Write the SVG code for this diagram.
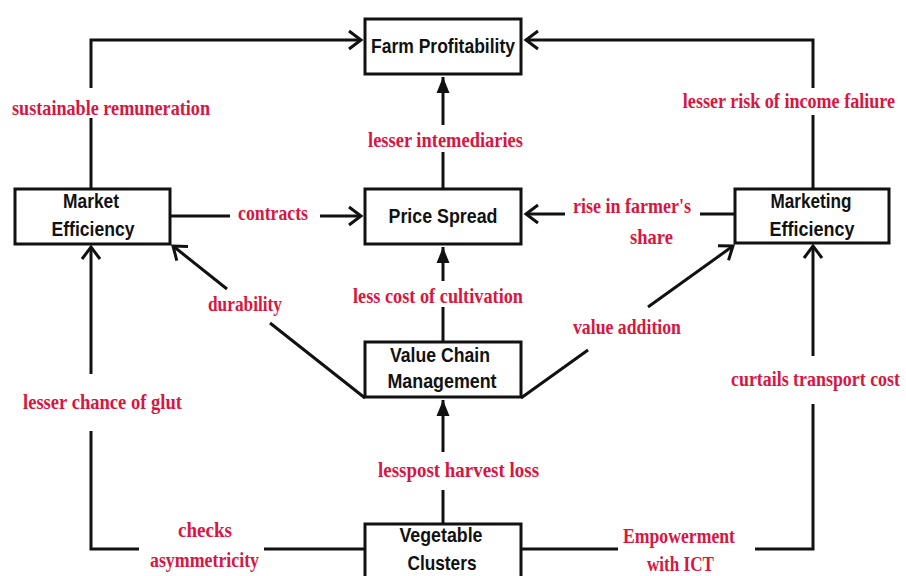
<svg xmlns="http://www.w3.org/2000/svg" width="906" height="576" viewBox="0 0 906 576">
<style>
.box{fill:#fff;stroke:#111;stroke-width:3}
.bt{font-family:"Liberation Sans",Arial,sans-serif;font-weight:bold;font-size:21px;fill:#111;text-anchor:middle}
.lb{font-family:"Liberation Serif","Times New Roman",serif;font-weight:bold;font-size:22px;fill:#d8163f}
.ln{fill:none;stroke:#111;stroke-width:3}
.ch{marker-end:url(#chev)}
.tr{marker-end:url(#tri)}
</style>
<defs>
<marker id="chev" markerUnits="userSpaceOnUse" viewBox="-16 -12 20 24" refX="0" refY="0" markerWidth="20" markerHeight="24" orient="auto" overflow="visible">
<path d="M -12 -9 L 0 0 L -12 9" fill="none" stroke="#111" stroke-width="3"/>
</marker>
<marker id="tri" markerUnits="userSpaceOnUse" viewBox="-18 -8 20 16" refX="0" refY="0" markerWidth="20" markerHeight="16" orient="auto" overflow="visible">
<path d="M -16 -6.5 L 0 0 L -16 6.5 Z" fill="#111"/>
</marker>
</defs>
<rect width="906" height="576" fill="#fff"/>
<g id="connectors">
<path class="ln" d="M 91 188 V 118"/>
<path class="ln ch" d="M 91 88 V 40 H 361"/>
<path class="ln" d="M 813 188 V 115"/>
<path class="ln ch" d="M 813 88 V 40 H 526"/>
<path class="ln" d="M 443 188 V 152"/>
<path class="ln tr" d="M 443 125 V 77"/>
<path class="ln" d="M 170 216 H 230"/>
<path class="ln ch" d="M 320 216 H 361"/>
<path class="ln" d="M 734 214 H 700"/>
<path class="ln ch" d="M 565 214 H 526"/>
<path class="ln" d="M 443 342 V 307"/>
<path class="ln tr" d="M 443 281 V 247"/>
<path class="ln" d="M 365 398 L 270 323"/>
<path class="ln ch" d="M 227 289 L 173 246"/>
<path class="ln" d="M 521 398 L 588 350"/>
<path class="ln ch" d="M 648 307 L 733 246"/>
<path class="ln" d="M 443 523 V 490"/>
<path class="ln tr" d="M 443 452 V 400"/>
<path class="ln" d="M 365 549 H 264"/>
<path class="ln" d="M 139 549 H 91 V 431"/>
<path class="ln ch" d="M 91 374 V 247"/>
<path class="ln" d="M 521 549 H 618"/>
<path class="ln" d="M 755 549 H 813 V 404"/>
<path class="ln ch" d="M 813 356 V 246"/>
</g>
<g id="farm-profitability">
<rect class="box" x="365" y="19" width="156" height="55"/>
<text class="bt" x="443" y="53" textLength="144" lengthAdjust="spacingAndGlyphs">Farm Profitability</text>
</g>
<g id="price-spread">
<rect class="box" x="365" y="189" width="156" height="55"/>
<text class="bt" x="443" y="223" textLength="109" lengthAdjust="spacingAndGlyphs">Price Spread</text>
</g>
<g id="market-efficiency">
<rect class="box" x="15" y="189" width="155" height="55"/>
<text class="bt" x="91" y="208" textLength="56" lengthAdjust="spacingAndGlyphs">Market</text>
<text class="bt" x="93" y="236" textLength="83" lengthAdjust="spacingAndGlyphs">Efficiency</text>
</g>
<g id="marketing-efficiency">
<rect class="box" x="735" y="189" width="154" height="54"/>
<text class="bt" x="811" y="208" textLength="81" lengthAdjust="spacingAndGlyphs">Marketing</text>
<text class="bt" x="812" y="236" textLength="85" lengthAdjust="spacingAndGlyphs">Efficiency</text>
</g>
<g id="value-chain-management">
<rect class="box" x="365" y="342" width="156" height="55"/>
<text class="bt" x="440" y="362" textLength="100" lengthAdjust="spacingAndGlyphs">Value Chain</text>
<text class="bt" x="442" y="388" textLength="109" lengthAdjust="spacingAndGlyphs">Management</text>
</g>
<g id="vegetable-clusters">
<rect class="box" x="365" y="524" width="156" height="60"/>
<text class="bt" x="441" y="542" textLength="83" lengthAdjust="spacingAndGlyphs">Vegetable</text>
<text class="bt" x="442" y="570" textLength="69" lengthAdjust="spacingAndGlyphs">Clusters</text>
</g>
<g id="labels">
<text class="lb" x="12" y="115" textLength="198" lengthAdjust="spacingAndGlyphs">sustainable remuneration</text>
<text class="lb" x="368" y="147" textLength="155" lengthAdjust="spacingAndGlyphs">lesser intemediaries</text>
<text class="lb" transform="translate(895,108) scale(0.822,1)" x="0" y="0" text-anchor="end">lesser risk of income faliure</text>
<text class="lb" x="238" y="220" textLength="70" lengthAdjust="spacingAndGlyphs">contracts</text>
<text class="lb" x="573" y="213" textLength="118" lengthAdjust="spacingAndGlyphs">rise in farmer's</text>
<text class="lb" x="630" y="244" textLength="43" lengthAdjust="spacingAndGlyphs">share</text>
<text class="lb" x="208" y="311" textLength="74" lengthAdjust="spacingAndGlyphs">durability</text>
<text class="lb" x="353" y="303" textLength="170" lengthAdjust="spacingAndGlyphs">less cost of cultivation</text>
<text class="lb" x="573" y="334" textLength="108" lengthAdjust="spacingAndGlyphs">value addition</text>
<text class="lb" x="23" y="409" textLength="159" lengthAdjust="spacingAndGlyphs">lesser chance of glut</text>
<text class="lb" transform="translate(900,386) scale(0.814,1)" x="0" y="0" text-anchor="end">curtails transport cost</text>
<text class="lb" x="378" y="477" textLength="161" lengthAdjust="spacingAndGlyphs">lesspost harvest loss</text>
<text class="lb" x="178" y="537" textLength="54" lengthAdjust="spacingAndGlyphs">checks</text>
<text class="lb" x="150" y="567" textLength="109" lengthAdjust="spacingAndGlyphs">asymmetricity</text>
<text class="lb" x="623" y="543" textLength="112" lengthAdjust="spacingAndGlyphs">Empowerment</text>
<text class="lb" x="647" y="571" textLength="67" lengthAdjust="spacingAndGlyphs">with ICT</text>
</g>
</svg>
